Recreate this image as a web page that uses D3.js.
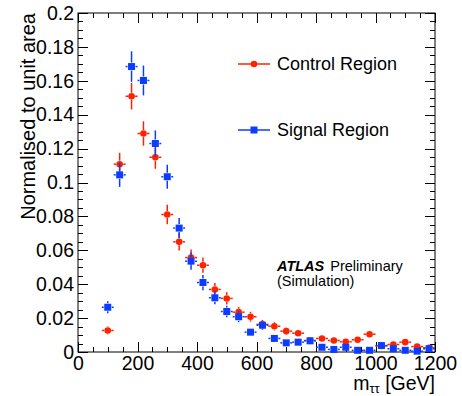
<!DOCTYPE html>
<html>
<head>
<meta charset="utf-8">
<script src="https://cdn.jsdelivr.net/npm/d3@7"></script>
<style>
  html, body { margin: 0; padding: 0; background: #fff; }
  svg { display: block; font-family: "Liberation Sans", Arial, Helvetica, sans-serif; }
</style>
</head>
<body>
<div id="chart"></div>
<script>
// bin centres (40 GeV bins)
const binCentres = [100, 140, 180, 220, 260, 300, 340, 380, 420, 460, 500, 540, 580, 620,
  660, 700, 740, 780, 820, 860, 900, 940, 980, 1020, 1060, 1100, 1140, 1180];
const binHalfWidth = 20;

const controlValues = [0.0127, 0.1108, 0.1509, 0.1289, 0.1149, 0.0811, 0.0650, 0.0557, 0.0512, 0.0369,
  0.0316, 0.0235, 0.0208, 0.0163, 0.0152, 0.0123, 0.0111, 0.0068, 0.0080, 0.0068,
  0.0060, 0.0072, 0.0105, 0.0036, 0.0044, 0.0058, 0.0032, 0.0025];
const controlErrors = [0.0023, 0.0067, 0.0078, 0.0072, 0.0068, 0.0057, 0.0051, 0.0047, 0.0045, 0.0038,
  0.0036, 0.0031, 0.0029, 0.0026, 0.0025, 0.0022, 0.0021, 0.0016, 0.0018, 0.0016,
  0.0015, 0.0017, 0.0020, 0.0012, 0.0013, 0.0015, 0.0011, 0.0010];

const signalValues = [0.0264, 0.1045, 0.1684, 0.1602, 0.1230, 0.1034, 0.0731, 0.0536, 0.0410, 0.0320,
  0.0239, 0.0208, 0.0117, 0.0158, 0.0080, 0.0054, 0.0058, 0.0066, 0.0028, 0.0015,
  0.0028, 0.0010, 0.0010, 0.0038, 0.0019, 0.0010, 0.0005, 0.0019];
const signalErrors = [0.0036, 0.0071, 0.0090, 0.0088, 0.0077, 0.0071, 0.0059, 0.0051, 0.0045, 0.0039,
  0.0034, 0.0032, 0.0024, 0.0028, 0.0020, 0.0016, 0.0017, 0.0018, 0.0012, 0.0009,
  0.0012, 0.0007, 0.0007, 0.0014, 0.0010, 0.0007, 0.0005, 0.0010];

const xTicks = [0, 200, 400, 600, 800, 1000, 1200];
const yTicks = [0, 0.02, 0.04, 0.06, 0.08, 0.1, 0.12, 0.14, 0.16, 0.18, 0.2];

const width = 462, height = 396;
const frame = { left: 78, right: 435, top: 13, bottom: 352 };

const RED = '#ff2200', BLUE = '#0b3cff';

const svg = d3.select('#chart').append('svg')
  .attr('width', width).attr('height', height);

const x = d3.scaleLinear().domain([0, 1200]).range([frame.left, frame.right]);
const y = d3.scaleLinear().domain([0, 0.2]).range([frame.bottom, frame.top]);

// frame
svg.append('rect')
  .attr('x', frame.left).attr('y', frame.top)
  .attr('width', frame.right - frame.left).attr('height', frame.bottom - frame.top)
  .attr('fill', 'none').attr('stroke', '#000').attr('stroke-width', 1);

// ticks on all four sides, pointing inwards
const xMinor = d3.range(0, 1201, 50);
const yMinor = d3.range(0, 41).map(i => i * 0.005);
const ticksG = svg.append('g').attr('stroke', '#000').attr('stroke-width', 1);
xMinor.forEach(v => {
  const len = v % 200 === 0 ? 10 : 5;
  const px = Math.round(x(v)) + 0.5;
  ticksG.append('line').attr('x1', px).attr('x2', px).attr('y1', frame.bottom).attr('y2', frame.bottom - len);
  ticksG.append('line').attr('x1', px).attr('x2', px).attr('y1', frame.top).attr('y2', frame.top + len);
});
yMinor.forEach((v, i) => {
  const len = i % 4 === 0 ? 10 : 5;
  const py = Math.round(y(v)) + 0.5;
  ticksG.append('line').attr('y1', py).attr('y2', py).attr('x1', frame.left).attr('x2', frame.left + len);
  ticksG.append('line').attr('y1', py).attr('y2', py).attr('x1', frame.right).attr('x2', frame.right - len);
});

// axes labels (d3 axes used for the numbers only)
const xAxis = svg.append('g')
  .attr('transform', `translate(0,${frame.bottom})`)
  .call(d3.axisBottom(x).tickValues(xTicks).tickSize(0).tickPadding(4).tickFormat(d3.format('d')));
xAxis.select('.domain').remove();
xAxis.selectAll('text').attr('font-size', 19.5).attr('font-family', null).attr('fill', '#000');

const yAxis = svg.append('g')
  .attr('transform', `translate(${frame.left},0)`)
  .call(d3.axisLeft(y).tickValues(yTicks).tickSize(0).tickPadding(4).tickFormat(d => d === 0 ? '0' : String(+d.toFixed(2))));
yAxis.select('.domain').remove();
yAxis.selectAll('text').attr('font-size', 19.5).attr('font-family', null).attr('fill', '#000');

// axis titles
svg.append('text')
  .attr('transform', `translate(35,${frame.top}) rotate(-90)`)
  .attr('text-anchor', 'end')
  .attr('font-size', 20)
  .text('Normalised to unit area');

const xt = svg.append('text')
  .attr('x', frame.right).attr('y', 390)
  .attr('text-anchor', 'end')
  .attr('font-size', 19.5);
xt.append('tspan').text('m');
xt.append('tspan').attr('font-size', 13).attr('dy', 3).text('ττ');
xt.append('tspan').attr('dy', -3).text(' [GeV]');

// data points with error bars
function drawSeries(values, errors, color, marker) {
  const g = svg.append('g');
  const gap = marker === 'circle' ? 3.5 : 4;
  binCentres.forEach((c, i) => {
    const cx = x(c), cy = y(values[i]);
    const xl = x(c - binHalfWidth), xr = x(c + binHalfWidth);
    const yt = y(values[i] + errors[i]), yb = y(Math.max(0, values[i] - errors[i]));
    const seg = (x1, y1, x2, y2) => g.append('line')
      .attr('x1', x1).attr('y1', y1).attr('x2', x2).attr('y2', y2)
      .attr('stroke', color).attr('stroke-width', 1.5);
    if (xl < cx - gap) seg(xl, cy, cx - gap, cy);
    if (xr > cx + gap) seg(cx + gap, cy, xr, cy);
    if (yt < cy - gap) seg(cx, yt, cx, cy - gap);
    if (yb > cy + gap) seg(cx, cy + gap, cx, yb);
    if (marker === 'circle') {
      g.append('circle').attr('cx', cx).attr('cy', cy).attr('r', 3.3).attr('fill', color);
    } else {
      g.append('rect').attr('x', cx - 3.5).attr('y', cy - 3.5).attr('width', 7).attr('height', 7).attr('fill', color);
    }
  });
}
drawSeries(controlValues, controlErrors, RED, 'circle');
drawSeries(signalValues, signalErrors, BLUE, 'square');

// legend
const legendItems = [
  { label: 'Control Region', color: RED, marker: 'circle', y: 64 },
  { label: 'Signal Region', color: BLUE, marker: 'square', y: 130 }
];
legendItems.forEach(d => {
  const g = svg.append('g');
  g.append('line').attr('x1', 238).attr('x2', 270).attr('y1', d.y).attr('y2', d.y)
    .attr('stroke', d.color).attr('stroke-width', 1.5);
  if (d.marker === 'circle') g.append('circle').attr('cx', 254).attr('cy', d.y).attr('r', 3.3).attr('fill', d.color);
  else g.append('rect').attr('x', 250.5).attr('y', d.y - 3.5).attr('width', 7).attr('height', 7).attr('fill', d.color);
  g.append('text').attr('x', 277).attr('y', d.y + 6).attr('font-size', 18).text(d.label);
});

// ATLAS label
const atlas = svg.append('text').attr('x', 277).attr('y', 271).attr('font-size', 14.5);
atlas.append('tspan').attr('font-weight', 'bold').attr('font-style', 'italic').text('ATLAS');
atlas.append('tspan').attr('dx', 6).text('Preliminary');
svg.append('text').attr('x', 277).attr('y', 286).attr('font-size', 14.5).text('(Simulation)');
</script>
</body>
</html>
